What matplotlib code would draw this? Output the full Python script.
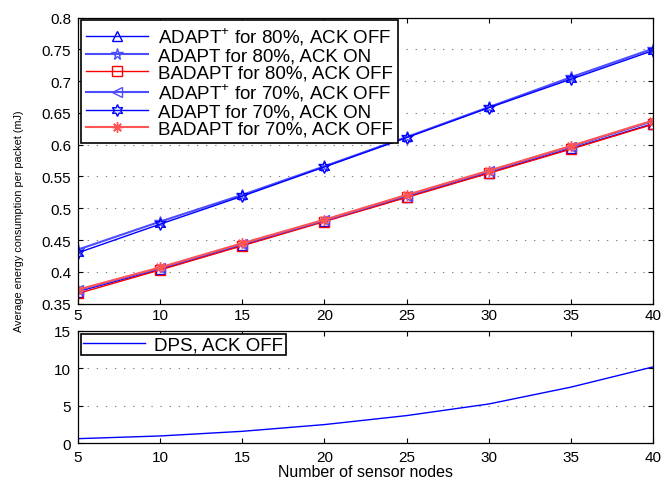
import numpy as np
import matplotlib
matplotlib.use('Agg')
import matplotlib.pyplot as plt

#===================== DATA ==========================
nodes = [5, 10, 15, 20, 25, 30, 35, 40]

# top panel, energy per packet (mJ)
adaptp_80_off = [0.369, 0.404, 0.442, 0.480, 0.518, 0.556, 0.594, 0.633]
adapt_80_on = [0.435, 0.479, 0.521, 0.566, 0.612, 0.659, 0.706, 0.751]
badapt_80_off = [0.366, 0.403, 0.441, 0.479, 0.517, 0.555, 0.593, 0.632]
adaptp_70_off = [0.371, 0.406, 0.444, 0.481, 0.520, 0.558, 0.597, 0.637]
adapt_70_on = [0.430, 0.475, 0.519, 0.565, 0.611, 0.658, 0.703, 0.748]
badapt_70_off = [0.372, 0.407, 0.445, 0.482, 0.521, 0.559, 0.598, 0.638]

# bottom panel
dps_off = [0.62, 0.98, 1.6, 2.5, 3.7, 5.25, 7.5, 10.2]

topYticks = [0.35, 0.4, 0.45, 0.5, 0.55, 0.6, 0.65, 0.7, 0.75, 0.8]
topYlabels = ['0.35', '0.4', '0.45', '0.5', '0.55', '0.6', '0.65', '0.7', '0.75', '0.8']
botYticks = [0, 5, 10, 15]
#=====================================================

plt.rcParams['font.family'] = ['Liberation Sans', 'DejaVu Sans']
plt.rcParams['mathtext.fontset'] = 'custom'
plt.rcParams['mathtext.rm'] = 'Liberation Sans'

fig = plt.figure(figsize=(6.65, 4.81), dpi=100)
ax1 = fig.add_axes([0.1173, 0.3667, 0.8647, 0.5948])
ax2 = fig.add_axes([0.1173, 0.0763, 0.8647, 0.2335])

blue = '#0000ff'
lblue = '#4d4dff'
red = '#ff0000'
lred = '#ff5555'
ms = 7.5

ax1.plot(nodes, adaptp_80_off, color=blue, lw=1, marker='^', ms=ms, mfc='none',
         label=r'ADAPT$^{+}$ for 80%, ACK OFF')
ax1.plot(nodes, adapt_80_on, color=lblue, lw=1.5, marker='*', ms=ms + 1, mfc='none',
         label='ADAPT for 80%, ACK ON')
ax1.plot(nodes, badapt_80_off, color=red, lw=1, marker='s', ms=ms - 1, mfc='none',
         label='BADAPT for 80%, ACK OFF')
ax1.plot(nodes, adaptp_70_off, color=lblue, lw=1.5, marker='<', ms=ms, mfc='none',
         label=r'ADAPT$^{+}$ for 70%, ACK OFF')
ax1.plot(nodes, adapt_70_on, color=blue, lw=1, marker=(6, 1, 0), ms=ms + 1, mfc='none',
         label='ADAPT for 70%, ACK ON')
ax1.plot(nodes, badapt_70_off, color=lred, lw=1.5, marker=(8, 2, 0), ms=ms, mfc='none',
         label='BADAPT for 70%, ACK OFF')

ax2.plot(nodes, dps_off, color=blue, lw=1, label='DPS, ACK OFF')

ax1.set_xlim(5, 40)
ax1.set_ylim(0.35, 0.8)
ax1.set_xticks(nodes)
ax1.set_yticks(topYticks)
ax1.set_yticklabels(topYlabels)
ax2.set_xlim(5, 40)
ax2.set_ylim(0, 15)
ax2.set_xticks(nodes)
ax2.set_yticks(botYticks)

for ax in (ax1, ax2):
    ax.tick_params(direction='in', length=3.5, width=0.8, top=True, right=True,
                   labelsize=11, pad=5)
    ax.yaxis.grid(True, color='#808080', linestyle=(0, (1.2, 7)), lw=0.8)
    for s in ax.spines.values():
        s.set_linewidth(0.9)
ax1.tick_params(axis='x', pad=3)
ax2.tick_params(axis='x', pad=5)

leg1 = ax1.legend(loc='upper left', fontsize=13.5, handlelength=3.3, labelspacing=0.0,
                  borderaxespad=0.15, borderpad=0.3, handletextpad=0.5, fancybox=False,
                  framealpha=1, edgecolor='black')
leg1.get_frame().set_linewidth(1.2)
leg2 = ax2.legend(loc='upper left', fontsize=13.5, handlelength=3.3, borderaxespad=0.15,
                  borderpad=0.12, handletextpad=0.5, fancybox=False, framealpha=1,
                  edgecolor='black')
leg2.get_frame().set_linewidth(1.2)

ax2.set_xlabel('Number of sensor nodes', fontsize=11.5, labelpad=0)
fig.text(0.029, 0.54, 'Average energy consumption per packet (mJ)', rotation=90,
         fontsize=7.8, ha='center', va='center')

fig.savefig('out.png', dpi=100)
